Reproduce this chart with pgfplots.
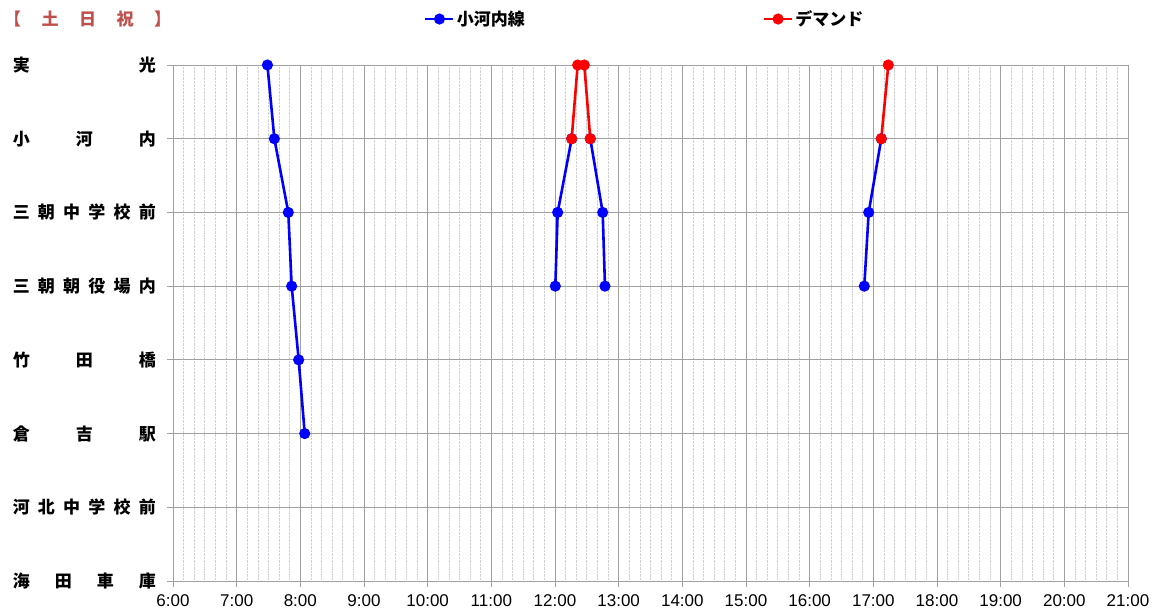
\documentclass[border=0pt]{standalone}
\usepackage{pgfplots}
\pgfplotsset{compat=1.18}
\usepackage{fontspec}
\setmainfont{Noto Sans CJK JP}
\newfontfamily\numfont{Liberation Sans}
\definecolor{gridc}{RGB}{160,160,160}
\definecolor{minorc}{RGB}{208,208,208}
\definecolor{titlered}{RGB}{192,80,77}
\newcommand\hf{\hfill}
\DeclareRobustCommand\labA{\makebox[143pt]{海\hf{}田\hf{}車\hf{}庫}}
\DeclareRobustCommand\labB{\makebox[143pt]{河\hf{}北\hf{}中\hf{}学\hf{}校\hf{}前}}
\DeclareRobustCommand\labC{\makebox[143pt]{倉\hf{}吉\hf{}駅}}
\DeclareRobustCommand\labD{\makebox[143pt]{竹\hf{}田\hf{}橋}}
\DeclareRobustCommand\labE{\makebox[143pt]{三\hf{}朝\hf{}朝\hf{}役\hf{}場\hf{}内}}
\DeclareRobustCommand\labF{\makebox[143pt]{三\hf{}朝\hf{}中\hf{}学\hf{}校\hf{}前}}
\DeclareRobustCommand\labG{\makebox[143pt]{小\hf{}河\hf{}内}}
\DeclareRobustCommand\labH{\makebox[143pt]{実\hf{}光}}
\DeclareRobustCommand\legA{\makebox[304pt][l]{小河内線}}
\begin{document}
\begin{tikzpicture}
\useasboundingbox (-173pt,-33pt) rectangle (984pt,581pt);
\begin{axis}[
  at={(0pt,0pt)}, anchor=south west,
  scale only axis, width=955pt, height=516pt,
  xmin=6, xmax=21, ymin=0, ymax=7,
  xtick={6,...,21},
  xticklabels={6:00,7:00,8:00,9:00,10:00,11:00,12:00,13:00,14:00,15:00,16:00,17:00,18:00,19:00,20:00,21:00},
  minor x tick num=5,
  ytick={0,...,7},
  yticklabels={\labA,\labB,\labC,\labD,\labE,\labF,\labG,\labH},
  grid=both,
  major grid style={gridc, line width=0.8pt},
  minor grid style={minorc, densely dotted, line width=0.7pt},
  axis line style={gridc, line width=0.8pt},
  tick style={gridc, line width=0.8pt},
  tick align=outside, major tick length=6pt, minor tick length=0pt,
  xtick pos=left, ytick pos=left,
  xticklabel style={font=\numfont\fontsize{17}{17}\selectfont, inner sep=0pt, yshift=-7pt},
  yticklabel style={font=\bfseries\fontsize{17}{17}\selectfont, anchor=east, inner sep=0pt, xshift=-11pt},
  unbounded coords=jump,
  legend columns=2,
  legend cell align=left,
  legend style={at={(0.2628,1.0891)}, anchor=west, draw=none, fill=none,
    font=\bfseries\fontsize{17}{17}\selectfont, inner sep=0pt,
    nodes={inner sep=2pt}},
  legend image code/.code={\draw[mark repeat=2,mark phase=2,#1] plot coordinates {(0pt,0pt) (14pt,0pt) (28pt,0pt)};},
]
\addplot[blue, line width=2.6pt, mark=*, mark size=4.2pt, mark options={solid, fill=blue}] coordinates {
  (7.483,7) (7.592,6) (7.811,5) (7.864,4) (7.974,3) (8.069,2)
  (9,nan)
  (12.005,4) (12.042,5) (12.262,6)
  (12.4,nan)
  (12.554,6) (12.749,5) (12.785,4)
  (14,nan)
  (16.858,4) (16.927,5) (17.125,6)
};
\addlegendentry{\legA}
\addplot[red, line width=2.6pt, mark=*, mark size=4.2pt, mark options={solid, fill=red}] coordinates {
  (12.262,6) (12.356,7) (12.460,7) (12.554,6)
  (14,nan)
  (17.125,6) (17.235,7)
};
\addlegendentry{デマンド}
\end{axis}
\node[anchor=west, inner sep=0pt, text=titlered, font=\bfseries\fontsize{17}{17}\selectfont] at (-169pt,562pt) {\makebox[167pt]{【\hf{}土\hf{}日\hf{}祝\hf{}】}};
\end{tikzpicture}
\end{document}
